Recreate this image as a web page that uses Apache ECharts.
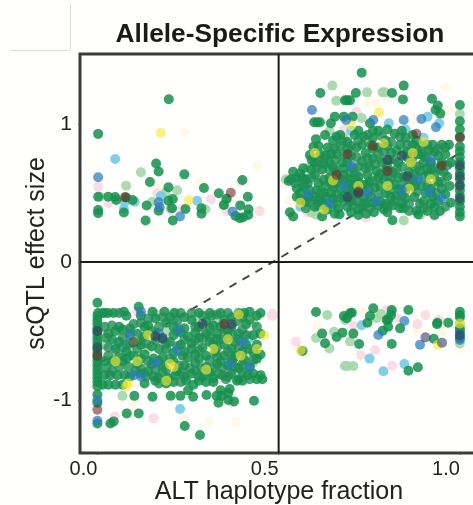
<!DOCTYPE html>
<html><head><meta charset="utf-8">
<style>html,body{margin:0;padding:0;background:#fff;overflow:hidden}#c{width:473px;height:505px}</style>
<script src="https://cdn.jsdelivr.net/npm/echarts@6/dist/echarts.min.js"></script>
</head><body><div id="c"></div>
<script>
const titleText = "Allele-Specific Expression";
const xLabel = "ALT haplotype fraction";
const yLabel = "scQTL effect size";
const xTicks = [0, 0.5, 1];
const yTicks = [-1, 0, 1];
const xRange = [-0.048, 1.05];
const yRange = [-1.384, 1.507];
const splitX = [[0.5, -1.384], [0.5, 1.507]];
const splitY = [[-0.048, 0], [1.05, 0]];
const trend = [[0.007, -0.73], [1.0, 0.79]];

const green = [
// top-left
[.197,1.179],[.002,.928],[.162,.713],[.169,.655],[.240,.635],[.145,.58],[.196,.541],[.294,.536],[.400,.594],[.335,.498],[.415,.473],[.002,.473],[.03,.473],[.049,.471],[.052,.449],[.079,.468],[.097,.449],[.136,.409],[.169,.372],[.196,.444],[.208,.456],[.206,.389],[.208,.30],[.133,.30],[.002,.377],[.002,.353],[.073,.358],[.243,.384],[.287,.389],[.287,.35],[.356,.456],[.394,.41],[.417,.382],[.416,.341],[.381,.334],[.393,.317],[.402,.324],[.349,.413],
// bottom-right
[.603,-.362],[.680,-.391],[.688,-.408],[.697,-.372],[.702,-.367],[.761,-.336],[.752,-.391],[.745,-.44],[.812,-.348],[.802,-.416],[.798,-.42],[.802,-.469],[.787,-.498],[.858,-.348],[.835,-.481],[.938,-.44],[.968,-.44],[.620,-.519],[.628,-.589],[.660,-.543],[.676,-.512],[.706,-.519],[.722,-.594],[.812,-.594],[.928,-.556],[.566,-.645],[.858,-.788],[.884,-.763],[.81,-.385],[1,-.36],[1,-.384],[1,-.401],[1,-.48],[1,-.505],[1,-.553],[.937,-.45],
// top-right sparse
[.729,1.372],[.615,1.224],[.683,1.171],[.689,1.171],[.697,1.171],[.713,1.224],[.813,1.224],[.845,1.278],[.843,1.178],[.923,1.183],[.939,1.133],[.933,1.101],[.946,1.075],[.598,1.012],[.606,1.012],[.614,1.012],[.644,1.005],[.655,1.053],[.680,1.053],[.704,1.053],[.752,1.005],
// top-right dense
[.628,.92],[.603,.89],[.596,.835],[.586,.775],[.591,.74],[.568,.68],[.54,.654],[.528,.587],[.55,.606],[.55,.534],[.55,.473],[.582,.473],[.568,.546],[.559,.642],[.531,.36],[.540,.329],[.814,.302],[.62,.33],[.668,.345],[.72,.34],[.742,.35],[.763,.36],[.79,.38],[.80,.36],[.835,.39],[.88,.37],[.885,.345],[.91,.37],[.945,.37],[.93,.34],
[.575,.60],[.60,.63],[.61,.57],[.585,.52],[.60,.47],[.62,.43],[.60,.40],[.635,.38],[.65,.42],[.665,.39],[.67,.46],[.645,.50],[.63,.55],[.64,.61],[.62,.67],[.60,.72],[.615,.78],[.635,.83],[.65,.88],[.67,.92],[.69,.87],[.66,.78],[.675,.72],[.655,.67],[.68,.63],[.695,.57],[.67,.53],[.70,.49],[.715,.44],[.69,.40],[.72,.38],[.74,.42],[.755,.47],[.73,.53],[.75,.58],[.72,.62],[.705,.68],[.73,.73],[.70,.77],[.715,.83],[.74,.79],[.735,.91],[.71,.92],[.76,.90],[.775,.95],[.795,.88],[.775,.83],[.76,.75],[.785,.72],[.77,.66],[.745,.63],[.79,.60],[.765,.54],[.795,.50],[.78,.44],[.815,.41],[.84,.43],[.825,.48],[.85,.52],[.82,.56],[.845,.62],[.815,.65],[.80,.69],[.83,.72],[.855,.76],[.81,.79],[.835,.85],[.82,.93],[.80,.96],[.85,.90],[.87,.85],[.885,.78],[.865,.71],[.89,.66],[.87,.60],[.895,.55],[.875,.47],[.90,.44],[.925,.47],[.92,.53],[.94,.58],[.915,.63],[.945,.67],[.92,.72],[.94,.77],[.915,.81],[.895,.84],[.925,.85],[.95,.85],[.97,.85],[.96,.78],[.975,.72],[.965,.62],[.972,.55],[.96,.49],[.975,.43],[.93,.40],[.905,.50],[.86,.55],[.83,.61],[.78,.55],[.75,.69],[.69,.72],[.64,.72],[.625,.50],[.655,.565],[.605,.52],[.575,.44],[.59,.67],[.565,.61],[.535,.60],[.56,.50],[.58,.57],[.61,.45],[.63,.47],[.68,.48],[.70,.44],[.66,.60],[.70,.60],[.735,.47],[.76,.43],[.795,.42],[.85,.46],[.89,.42],[.94,.44],[.81,.47],[.83,.53],[.875,.64],[.90,.72],[.855,.80],[.80,.84],[.76,.82],[.73,.85],[.69,.82],[.67,.84],[.645,.78],[.625,.71],[.68,.68],[.72,.58],[.69,.53],[.65,.46],[.74,.56],[.775,.61],[.805,.74],[.825,.81],[.87,.92],[.895,.78],[.91,.68],[.875,.55],[.845,.39],[.70,.36],[.655,.35],[.775,.41],[.92,.42],[.95,.53],[.93,.63],[.95,.72],[.93,.80],[.88,.88],[.84,.95],[.76,.95],[.72,.95],[.66,.91],[.61,.84],[.63,.77],
[1,1.137],[1,1.02],[1,.961],[1,.908],[1,.836],[1,.80],[1,.76],[1,.72],[1,.68],[1,.64],[1,.60],[1,.56],[1,.52],[1,.48],[1,.44],[1,.40],[1,.36],[1,.33],
// bottom-left sparse
[0,-.295],[.114,-.324],[.002,-.37],[0,-.39],[0,-.42],[0,-.45],[0,-.48],[0,-.51],[0,-.54],[0,-.57],[0,-.60],[0,-.63],[0,-.66],[0,-.69],[0,-.72],[0,-.75],[0,-.78],[0,-.81],[0,-.84],[0,-.87],[0,-.90],[0,-.96],[0,-1.02],[0,-1.17],[.102,-.97],[.152,-.976],[.202,-.97],[.229,-.97],[.264,-.976],[.301,-.964],[.329,-.97],[.343,-.97],[.361,-.95],[.334,-1.02],[.361,-1.0],[.377,-1.01],[.432,-1.005],[.081,-1.097],[.114,-1.097],[.036,-1.17],[.045,-1.155],[.241,-1.188],[.283,-1.254],
// bottom-left dense
[.015,-.37],[.03,-.37],[.045,-.37],[.073,-.36],[.08,-.39],[.152,-.36],[.185,-.36],[.213,-.37],[.28,-.37],[.31,-.37],[.34,-.37],[.39,-.37],[.405,-.37],[.42,-.36],[.45,-.37],[.40,-.40],[.44,-.39],[.12,-.39],[.16,-.41],[.20,-.40],[.24,-.40],[.26,-.42],[.30,-.43],[.35,-.42],[.37,-.40],[.41,-.45],[.45,-.52],[.43,-.53],[.39,-.52],[.37,-.47],[.34,-.47],[.32,-.46],[.28,-.47],[.24,-.48],[.21,-.47],[.19,-.44],[.14,-.46],[.09,-.48],[.07,-.49],[.06,-.47],[.03,-.52],[.11,-.52],[.13,-.54],[.16,-.53],[.18,-.56],[.21,-.53],[.25,-.54],[.27,-.51],[.30,-.52],[.33,-.52],[.36,-.55],[.38,-.58],[.41,-.60],[.44,-.60],[.43,-.65],[.40,-.65],[.37,-.63],[.35,-.60],[.31,-.58],[.29,-.62],[.26,-.59],[.23,-.60],[.20,-.58],[.17,-.63],[.15,-.61],[.12,-.60],[.09,-.59],[.06,-.58],[.04,-.56],[.05,-.63],[.08,-.65],[.10,-.68],[.13,-.67],[.155,-.70],[.18,-.69],[.21,-.66],[.235,-.68],[.27,-.67],[.30,-.68],[.325,-.65],[.35,-.68],[.375,-.70],[.405,-.71],[.44,-.70],[.45,-.67],[.42,-.76],[.39,-.77],[.36,-.75],[.33,-.74],[.30,-.76],[.27,-.73],[.24,-.75],[.21,-.72],[.18,-.75],[.15,-.74],[.11,-.74],[.07,-.72],[.04,-.72],[.02,-.72],[.02,-.82],[.035,-.82],[.055,-.82],[.075,-.82],[.09,-.83],[.12,-.81],[.155,-.83],[.17,-.84],[.195,-.84],[.215,-.82],[.24,-.83],[.26,-.81],[.29,-.83],[.32,-.84],[.345,-.82],[.37,-.81],[.40,-.80],[.415,-.82],[.43,-.81],[.45,-.82],[.39,-.85],[.015,-.89],[.03,-.89],[.05,-.89],[.07,-.89],[.13,-.88],[.16,-.86],[.19,-.88],[.21,-.87],[.245,-.86],[.265,-.89],[.28,-.86],[.30,-.87],[.32,-.87],[.385,-.86],[.40,-.86],[.44,-.85],[.455,-.85],[.25,-.93],[.34,-.93],[.365,-.92],[.08,-.70],[.05,-.50],[.15,-.50],[.23,-.51],[.28,-.55],[.32,-.60],[.26,-.63],[.19,-.63],[.13,-.47],[.36,-.50],[.41,-.53],[.34,-.72],[.31,-.80],[.22,-.79],[.14,-.79],[.11,-.58],[.38,-.68],[.33,-.56]
];
const greenFill = [
// top-right fill
[.57,.56],[.545,.57],[.59,.61],[.56,.45],[.575,.39],[.61,.41],[.625,.595],[.65,.54],[.615,.505],[.605,.69],[.625,.74],[.65,.69],[.66,.64],[.645,.57],[.68,.585],[.675,.60],[.695,.645],[.71,.56],[.70,.53],[.715,.49],[.735,.43],[.75,.39],[.705,.41],[.68,.44],[.66,.49],[.775,.49],[.76,.585],[.78,.635],[.805,.57],[.81,.62],[.795,.66],[.765,.71],[.74,.68],[.72,.69],[.715,.76],[.745,.75],[.775,.78],[.79,.80],[.755,.85],[.72,.88],[.70,.84],[.68,.78],[.655,.74],[.64,.67],[.61,.73],[.655,.82],[.675,.88],[.745,.92],[.785,.91],[.81,.87],[.835,.91],[.855,.85],[.845,.78],[.84,.69],[.86,.65],[.885,.69],[.87,.76],[.905,.76],[.92,.67],[.90,.62],[.88,.58],[.845,.57],[.84,.48],[.82,.44],[.86,.42],[.88,.51],[.91,.56],[.935,.50],[.95,.58],[.955,.65],[.93,.68],[.965,.70],[.96,.83],[.94,.82],[.91,.85],[.88,.82],[.82,.74],[.825,.67],[.805,.52],[.75,.52],[.71,.63],[.695,.45],[.73,.40],[.80,.40],[.86,.37],[.96,.40],[.90,.39],[.63,.41],[.585,.43],
// bottom-left fill
[.02,-.37],[.06,-.37],[.025,-.55],[.02,-.47],[.04,-.46],[.07,-.55],[.09,-.52],[.10,-.45],[.12,-.44],[.14,-.41],[.17,-.47],[.18,-.40],[.22,-.43],[.23,-.37],[.26,-.37],[.29,-.39],[.315,-.39],[.33,-.38],[.36,-.37],[.385,-.43],[.42,-.42],[.44,-.47],[.40,-.49],[.35,-.49],[.31,-.48],[.27,-.47],[.22,-.50],[.24,-.56],[.27,-.57],[.29,-.55],[.31,-.54],[.34,-.56],[.37,-.52],[.39,-.56],[.42,-.63],[.39,-.62],[.36,-.65],[.33,-.62],[.28,-.64],[.24,-.65],[.22,-.61],[.19,-.59],[.16,-.57],[.135,-.59],[.11,-.63],[.07,-.62],[.03,-.62],[.03,-.68],[.06,-.69],[.12,-.70],[.14,-.72],[.17,-.72],[.20,-.70],[.25,-.69],[.28,-.70],[.31,-.71],[.33,-.69],[.37,-.72],[.40,-.74],[.43,-.71],[.38,-.76],[.345,-.77],[.32,-.77],[.285,-.77],[.255,-.77],[.225,-.75],[.19,-.78],[.16,-.78],[.12,-.77],[.085,-.76],[.06,-.76],[.025,-.77],[.04,-.79],[.105,-.79],[.135,-.83],[.18,-.80],[.235,-.80],[.27,-.79],[.335,-.81],[.355,-.85],[.42,-.85],[.36,-.83],[.28,-.83],[.23,-.87],[.17,-.88]
];
const lightGreen = [
[.12,.65],[.079,.553],[.007,.473],[.151,.437],[.188,.502],[.22,.519],[.298,.382],[.349,.413],[.358,.46],[.202,.39],
[.634,-.384],[.683,-.42],[.782,-.377],[.770,-.408],[.653,-.505],[.603,-.551],[.697,-.575],[.640,-.626],[.683,-.754],[.690,-.754],[.706,-.754],[1,-.445],[1,-.59],[.811,-.36],
[.648,1.278],[.659,1.169],[.744,1.229],[.787,1.229],[.793,1.229],[.729,1.043],[1,1.072],[.64,.95],[.59,.36],[.605,.345],[.61,.37],[.845,.30],[.89,.34],[.62,.60],[.58,.68],[.66,.42],[.69,.76],[.73,.66],[.76,.62],[.70,.52],[.82,.64],[.88,.70],[.91,.77],[.86,.66],[.93,.56],[.78,.75],[.645,.82],[.75,.86],[.59,.46],[.80,.45],[.52,.60],[.68,.90],
[.069,-.97],[.02,-.60],[.055,-.67],[.09,-.61],[.14,-.63],[.19,-.50],[.21,-.37],[.18,-.77],[.16,-.38],[.31,-.50],[.33,-.66],[.285,-.70],[.29,-.48],[.37,-.78],[.41,-.68],[.24,-.62],[.27,-.44],[.35,-.53],[.43,-.44],[.33,-.42],[.43,-.73],[.046,-.73],[.25,-.71]
];
const pink = [
[.002,.546],[.03,.425],[.313,.454],[.396,.582],[.448,.37],[.356,.37],[.232,.382],[.202,.377],[.165,.50],
[.548,-.577],[.706,-.461],[.766,-.638],[.727,-.674],[.813,-.751],[.883,-.449],[.905,-.384],[.798,-.348],[.825,-.408],[.942,-.42],[.483,-.391],
[.715,1.089],[.68,.96],[.61,.65],[.58,.36],[.60,.34],[.74,.32],[.80,.74],[.93,.33],[.95,.36],[.87,.73],[.665,.60],[.63,.36],
[.048,-1.12],[.155,-1.133],[.483,-.375],[.11,-.36],[.17,-.38],[.37,-1.02],[.36,-.62],[.42,-.49],[.43,-.67],[.34,-.85],[.19,-.72]
];
const pale = [
[.241,.937],[.441,.698],[.283,.577],[.172,.546],[.607,-.457],[.731,-.36],[.881,-.498],[.954,-.498],[1,-.626],
[.961,1.27],[.747,1.15],[.77,1.15],[.968,1.1],[.52,.57],[.53,.45],[.88,1.03],[.309,-1.16],[.382,-1.16],[.10,-1.02],[.24,-1.14]
];
const lightBlue = [
[.049,.746],[.175,.478],[.275,.444],[.073,.384],[.076,.437],[.103,.437],[.729,-.459],[.751,-.7],[.789,-.792],[.847,-.739],
[.911,1.053],[.943,1.005],[.804,1.005],[.70,.95],[.85,.96],[.90,.90],[.56,.40],[.72,.50],[.80,.62],[.855,.56],[.92,.48],
[.228,-1.065],[.08,-.60],[.09,-.68],[.05,-.61],[.13,-.80],[.21,-.42],[.30,-.82],[.42,-.55]
];
const blue = [
[.002,.614],[.169,.432],[.172,.396],[.228,.329],[.373,.365],[.775,-.529],[.847,-.428],[.890,-.599],[1,-.565],[1,-.529],
[.592,1.101],[.686,1.029],[.845,1.029],[.894,1.036],[.934,.976],[.761,1.029],[.58,.49],[.64,.43],[.70,.70],[.745,.50],[.77,.44],[.84,.52],[.92,.74],[.915,.51],[.95,.46],[.885,.60],[.68,.55],
[.12,-.36],[.12,-.83],[.10,-.82],[.17,-.52],[.22,-.64],[.16,-.73],[.365,-.74],[.42,-.76],[.40,-.58],[.225,-.49],[.0,-1.15],[0,-1.0],[.09,-.53]
];
const yellow = [
[.175,.935],[.252,.447],[.561,-.638],[.939,-.601],[1,-.445],
[.777,1.084],[.70,.99],[.60,.79],[.65,.59],[.56,.43],[.625,.38],[.72,.55],[.80,.55],[.87,.79],[.865,.72],[.90,.87],[.86,.53],[.92,.60],[.79,.86],
[.10,-.57],[.05,-.72],[.11,-.72],[.20,-.74],[.21,-.76],[.30,-.78],[.39,-.38],[.46,-.53],[.44,-.63],[.395,-.68],[.085,-.88],[.32,-.63],[.08,-.90],[.14,-.53],[.19,-.86],[.36,-.56]
];
const red = [
[.368,.502],[.076,.47],[.69,.78],[.76,.84],[.80,.66],[.88,.93],[.72,.50],[1,.90],[.95,.70],[.66,.63],[0,-1.07],[0,-.68],[.35,-.45]
];
const purple = [
[.951,-.585],[.905,-.546],[1,-.53],[.80,.74],[.72,.51],[.855,.62],[.69,.47],[.84,.77],[1,.62],[1,.55],[1,.70],[1,.46],[.10,-.58],[.18,-.55],[.16,-.54],[.29,-.45],[.37,-.45],[0,-.50],[0,-.62]
];

function dots(name, data, color, opacity, z) {
  return {
    name, type: 'scatter', data, symbolSize: 10, clip: false, silent: true, z,
    itemStyle: { color, opacity }
  };
}
function rule(name, data, extra) {
  return Object.assign({
    name, type: 'line', data, symbol: 'none', silent: true, z: 5,
    lineStyle: { color: '#1c1c1c', width: 2 }
  }, extra || {});
}

const chart = echarts.init(document.getElementById('c'), null, { renderer: 'canvas' });
const font = "'Liberation Sans', Arial, sans-serif";
chart.setOption({
  animation: false,
  backgroundColor: '#fffffe',
  title: {
    text: titleText, left: 275, top: 17, textAlign: 'center',
    textStyle: { fontFamily: font, fontWeight: 'bold', fontSize: 26.3, color: '#1a1a1a' }
  },
  grid: {
    left: 80, top: 54, width: 398, height: 399, show: true, outerBoundsMode: 'none',
    borderColor: '#3c3c3c', borderWidth: 3, backgroundColor: 'transparent'
  },
  xAxis: {
    type: 'value', min: xRange[0], max: xRange[1],
    name: xLabel, nameLocation: 'middle', nameGap: 27, nameMoveOverlap: false,
    nameTextStyle: { fontFamily: font, fontSize: 25, color: '#222' },
    axisLine: { show: false, onZero: false }, splitLine: { show: false },
    axisTick: { show: true, length: 2, customValues: xTicks, lineStyle: { color: '#555' } },
    axisLabel: {
      customValues: xTicks, formatter: v => v.toFixed(1), margin: 6, align: 'right',
      fontFamily: font, fontSize: 20, color: '#222'
    }
  },
  yAxis: {
    type: 'value', min: yRange[0], max: yRange[1],
    name: yLabel, nameLocation: 'middle', nameGap: 30, nameMoveOverlap: false,
    nameTextStyle: { fontFamily: font, fontSize: 25, color: '#222' },
    axisLine: { show: false, onZero: false }, splitLine: { show: false },
    axisTick: { show: true, length: 2, customValues: yTicks, lineStyle: { color: '#555' } },
    axisLabel: {
      customValues: yTicks, margin: 8,
      fontFamily: font, fontSize: 21, color: '#222'
    }
  },
  graphic: [
    { type: 'line', silent: true, shape: { x1: 70.5, y1: 4, x2: 70.5, y2: 50 }, style: { stroke: '#dcdcdc', lineWidth: 1 } },
    { type: 'line', silent: true, shape: { x1: 11, y1: 50.5, x2: 70, y2: 50.5 }, style: { stroke: '#dcdcdc', lineWidth: 1 } }
  ],
  series: [
    dots('pale', pale, '#fff8e4', 0.9, 1),
    dots('pink', pink, '#f9d9e4', 0.9, 1),
    dots('light green', lightGreen, '#a4d6a8', 0.9, 1),
    dots('light blue', lightBlue, '#74cbe6', 0.9, 1),
    rule('trend', trend, { lineStyle: { color: '#4a4a4a', width: 2, type: [8, 7] }, z: 1 }),
    dots('green', green, '#15904e', 0.85, 2),
    dots('green fill', greenFill, '#1f8f55', 0.8, 2),
    dots('yellow', yellow, '#f8e82e', 0.62, 2.5),
    dots('blue', blue, '#2a7db9', 0.72, 3),
    dots('red', red, '#6e2b2b', 0.6, 3),
    dots('purple', purple, '#333a63', 0.6, 3),
    rule('vertical split', splitX),
    rule('horizontal split', splitY)
  ]
});
</script></body></html>
